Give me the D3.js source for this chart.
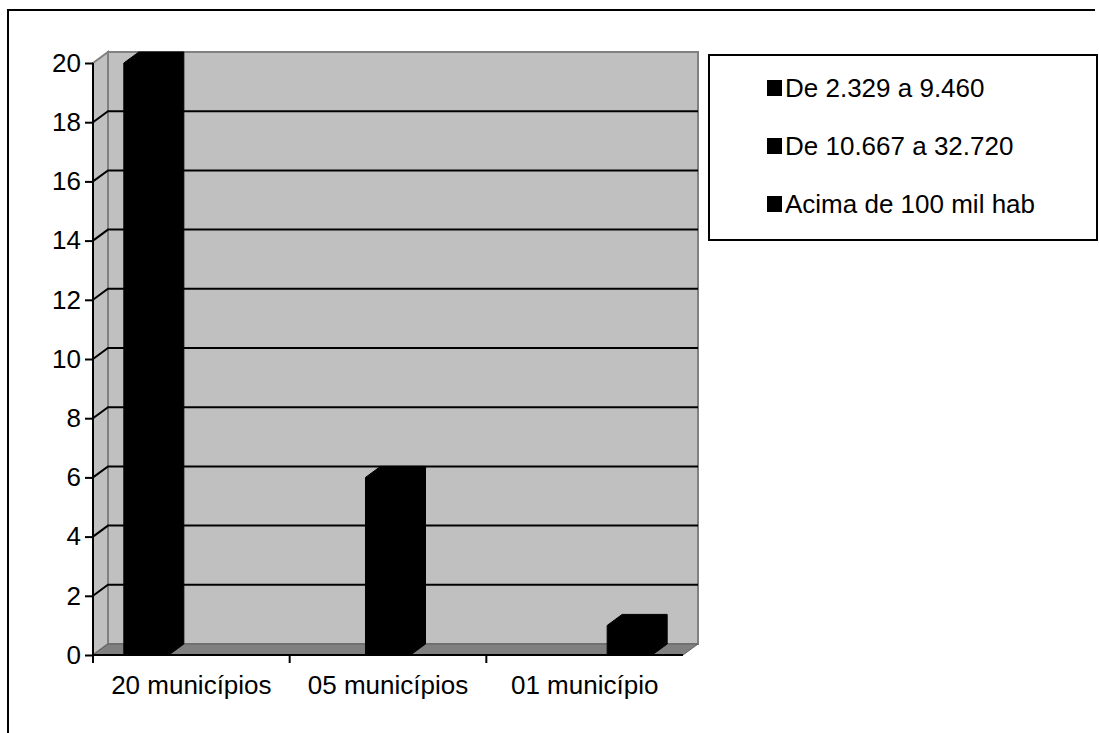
<!DOCTYPE html>
<html lang="pt">
<head>
<meta charset="UTF-8">
<title>Municípios por faixa de população</title>
<script src="https://d3js.org/d3.v7.min.js"></script>
<style>
  body { margin: 0; background: #fff; }
  text { font-family: "Liberation Sans", Arial, sans-serif; }
</style>
</head>
<body>
<div id="chart"></div>
<script>
// data
var categories = ["20 municípios", "05 municípios", "01 município"];
var seriesNames = ["De 2.329 a 9.460", "De 10.667 a 32.720", "Acima de 100 mil hab"];
var seriesValues = [
  [20, 0, 0],
  [0, 6, 0],
  [0, 0, 1]
];
var yTicks = [0, 2, 4, 6, 8, 10, 12, 14, 16, 18, 20];

var W = 1099, H = 733;
var plot = {left: 93, right: 683, top: 63, bottom: 655};
var depth = {dx: 15, dy: -11};   // 3d offset of back wall

var svg = d3.select("#chart").append("svg")
    .attr("width", W)
    .attr("height", H);

// outer frame (only top and left edges are visible)
svg.append("path")
    .attr("d", "M8,733 L8,10 L1095,10")
    .attr("fill", "none")
    .attr("stroke", "#000")
    .attr("stroke-width", 2);

var y = d3.scaleLinear().domain([0, 20]).range([plot.bottom, plot.top]);
var x0 = d3.scaleBand().domain(categories).range([plot.left, plot.right]);
var x1 = d3.scaleBand().domain(seriesNames).range([0, x0.bandwidth()]).paddingOuter(0.685);

var dx = depth.dx, dy = depth.dy;

// side wall
svg.append("polygon")
    .attr("points", [[plot.left, y(20)], [plot.left + dx, y(20) + dy],
                     [plot.left + dx, y(0) + dy], [plot.left, y(0)]].join(" "))
    .attr("fill", "#c0c0c0")
    .attr("stroke", "#808080")
    .attr("stroke-width", 2);

// back wall
svg.append("rect")
    .attr("x", plot.left + dx)
    .attr("y", y(20) + dy)
    .attr("width", plot.right - plot.left)
    .attr("height", y(0) - y(20))
    .attr("fill", "#c0c0c0")
    .attr("stroke", "#808080")
    .attr("stroke-width", 2);

// floor
svg.append("polygon")
    .attr("points", [[plot.left, y(0)], [plot.left + dx, y(0) + dy],
                     [plot.right + dx, y(0) + dy], [plot.right, y(0)]].join(" "))
    .attr("fill", "#808080")
    .attr("stroke", "#606060")
    .attr("stroke-width", 1);

// gridlines on side and back walls
var grid = yTicks.filter(function (d) { return d > 0 && d < 20; });
svg.selectAll("path.grid")
    .data(grid)
    .enter()
    .append("path")
    .attr("class", "grid")
    .attr("d", function (d) {
      return "M" + plot.left + "," + y(d) +
             " L" + (plot.left + dx) + "," + (y(d) + dy) +
             " L" + (plot.right + dx) + "," + (y(d) + dy);
    })
    .attr("fill", "none")
    .attr("stroke", "#000")
    .attr("stroke-width", 2);

// bars (3d columns, all black)
var bars = [];
seriesValues.forEach(function (vals, s) {
  vals.forEach(function (v, c) {
    if (v > 0) bars.push({series: seriesNames[s], cat: categories[c], value: v});
  });
});

svg.selectAll("polygon.bar")
    .data(bars)
    .enter()
    .append("polygon")
    .attr("class", "bar")
    .attr("points", function (d) {
      var xl = x0(d.cat) + x1(d.series);
      var xr = xl + x1.bandwidth();
      var yt = y(d.value), yb = y(0);
      return [[xl, yb], [xl, yt], [xl + dx, yt + dy], [xr + dx, yt + dy],
              [xr + dx, yb + dy], [xr, yb]].join(" ");
    })
    .attr("fill", "#000")
    .attr("stroke", "#000")
    .attr("stroke-width", 1);

// y axis
var yAxis = svg.append("g")
    .attr("transform", "translate(" + plot.left + ",0)")
    .call(d3.axisLeft(y).tickValues(yTicks).tickSize(8).tickPadding(4));
yAxis.select(".domain")
    .attr("d", "M0," + plot.top + " V" + (plot.bottom + 7))
    .attr("stroke-width", 2);
yAxis.selectAll(".tick line").attr("stroke-width", 2);
yAxis.selectAll("text")
    .attr("font-size", 26)
    .attr("font-family", "Liberation Sans, Arial, sans-serif")
    .attr("fill", "#000");

// x axis
var xAxis = svg.append("g")
    .attr("transform", "translate(0," + plot.bottom + ")")
    .call(d3.axisBottom(x0).tickSize(0).tickPadding(21));
xAxis.select(".domain")
    .attr("d", "M" + plot.left + ",0 H" + plot.right)
    .attr("stroke-width", 2);
xAxis.selectAll("text")
    .attr("font-size", 26)
    .attr("font-family", "Liberation Sans, Arial, sans-serif")
    .attr("fill", "#000");

// category boundary ticks
xAxis.selectAll("line.bound")
    .data(categories)
    .enter()
    .append("line")
    .attr("class", "bound")
    .attr("x1", function (d) { return x0(d); })
    .attr("x2", function (d) { return x0(d); })
    .attr("y1", 0)
    .attr("y2", 8)
    .attr("stroke", "#000")
    .attr("stroke-width", 2);

// legend
var legend = svg.append("g");
legend.append("rect")
    .attr("x", 709)
    .attr("y", 55)
    .attr("width", 388)
    .attr("height", 185)
    .attr("fill", "#fff")
    .attr("stroke", "#000")
    .attr("stroke-width", 2);

var rowY = d3.scalePoint().domain(seriesNames).range([88, 204]);
var items = legend.selectAll("g.item")
    .data(seriesNames)
    .enter()
    .append("g")
    .attr("class", "item")
    .attr("transform", function (d) { return "translate(767," + rowY(d) + ")"; });
items.append("rect")
    .attr("x", 0)
    .attr("y", -8)
    .attr("width", 15)
    .attr("height", 16)
    .attr("fill", "#000");
items.append("text")
    .attr("x", 18)
    .attr("y", 9)
    .attr("font-size", 26)
    .attr("fill", "#000")
    .text(function (d) { return d; });
</script>
</body>
</html>
